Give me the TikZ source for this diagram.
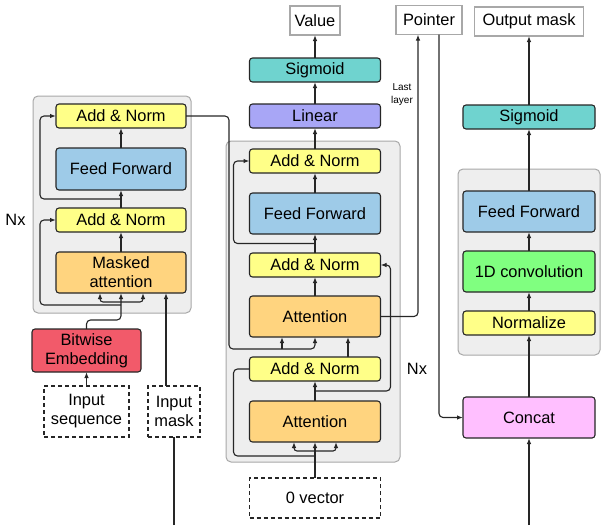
\documentclass[tikz,border=0pt]{standalone}
\usepackage{fontspec}
\setmainfont{Liberation Sans}
\usetikzlibrary{positioning,calc,arrows.meta}
\definecolor{normyellow}{HTML}{FFFF88}
\definecolor{ffblue}{HTML}{9ECBE8}
\definecolor{attnorange}{HTML}{FFD47F}
\definecolor{sigteal}{HTML}{6FD3CF}
\definecolor{linblue}{HTML}{A8A6F6}
\definecolor{embedred}{HTML}{F25A6A}
\definecolor{convgreen}{HTML}{80FF80}
\definecolor{concatpink}{HTML}{FFBFFF}
\definecolor{stackgrey}{HTML}{EEEEEE}
\definecolor{edgegrey}{HTML}{A8A8A8}
\begin{document}
\begin{tikzpicture}[x=1pt, y=-1pt, node distance=20pt,
                every node/.style = {font=\fontsize{16.4}{19}\selectfont},
                block/.style = {draw=black!85, line width=1.1pt, rounded corners=3pt,
                                minimum width=131pt, align=center, inner sep=0pt, outer sep=0pt},
                slimbox/.style = {block, minimum height=24pt},
                tallbox/.style = {block, minimum height=41pt},
                addnorm/.style = {slimbox, fill=normyellow},
                ffbox/.style = {tallbox, fill=ffblue},
                dashbox/.style = {draw=black!85, dash pattern=on 4pt off 3pt, line width=1.1pt,
                                  align=center, inner sep=0pt, outer sep=0pt},
                outbox/.style = {draw=edgegrey, line width=1.2pt, fill=white,
                                 minimum height=29pt, inner sep=0pt, outer sep=0pt},
                stack/.style = {fill=stackgrey, draw=edgegrey, line width=1pt, rounded corners=5pt},
                wire/.style = {draw=black!85, line width=1.1pt},
                arr/.style = {wire, -{Latex[length=6pt,width=4.5pt]}}
            ]
            \useasboundingbox (0,0) rectangle (605,525);
            \draw[stack] (33,96) rectangle (191,313);
            \draw[stack] (226,141) rectangle (400,462);
            \draw[stack] (458,169) rectangle (600,355);

            \node[tallbox, fill=attnorange, minimum width=130pt] (encAtt) at (121,272.5) {Masked\\attention};
            \node[addnorm, minimum width=130pt, above=of encAtt] (encAN1) {Add \& Norm};
            \node[ffbox, minimum width=130pt, minimum height=42pt, above=18pt of encAN1] (encFF) {Feed Forward};
            \node[addnorm, minimum width=130pt, above=of encFF] (encAN2) {Add \& Norm};
            \node[tallbox, fill=embedred, minimum width=109pt, minimum height=43pt] (embed) at (86.5,350.5) {Bitwise\\Embedding};
            \node[dashbox, minimum width=85pt, minimum height=51pt] (inSeq) at (86.5,411.5) {Input\\sequence};
            \node[dashbox, minimum width=52pt, minimum height=51pt] (inMask) at (174,411.5) {Input\\mask};
            \node (encNx) at (15.5,220) {Nx};

            \node[tallbox, fill=attnorange] (decAtt1) at (315,421.5) {Attention};
            \node[addnorm, above=of decAtt1] (decAN1) {Add \& Norm};
            \node[tallbox, fill=attnorange, above=of decAN1] (decAtt2) {Attention};
            \node[addnorm, above=19pt of decAtt2] (decAN2) {Add \& Norm};
            \node[ffbox, above=19pt of decAN2] (decFF) {Feed Forward};
            \node[addnorm, above=of decFF] (decAN3) {Add \& Norm};
            \node[slimbox, fill=linblue, above=21pt of decAN3] (decLin) {Linear};
            \node[slimbox, fill=sigteal, above=22pt of decLin] (decSig) {Sigmoid};
            \node[outbox, minimum width=50pt, above=23pt of decSig] (value) {Value};
            \node[dashbox, minimum width=131pt, minimum height=40pt, below=36pt of decAtt1] (zeroVec) {0 vector};
            \node (decNx) at (417,369) {Nx};
            \node[outbox, minimum width=66pt] (pointer) at (429,20) {Pointer};
            \node[font=\fontsize{10}{13}\selectfont, align=center] (lastLayer) at (402,94.5) {Last\\layer};

            \node[tallbox, fill=concatpink, minimum width=132pt] (concat) at (529,417.5) {Concat};
            \node[slimbox, fill=normyellow, minimum width=132pt, above=62pt of concat] (norm) {Normalize};
            \node[tallbox, fill=convgreen, minimum width=132pt, above=19pt of norm] (conv) {1D convolution};
            \node[ffbox, minimum width=132pt, above=19pt of conv] (rFF) {Feed Forward};
            \node[slimbox, fill=sigteal, minimum width=132pt, above=62pt of rFF] (rSig) {Sigmoid};
            \node[outbox, minimum width=109pt, above=69pt of rSig] (outMask) {Output mask};

            \coordinate (embedTurn) at ($(encAtt.south)+(0,27)$);
            \coordinate (encSplit) at ($(encAtt.south)+(0,9)$);
            \coordinate (encRes) at ($(encAtt.south)+(0,12)$);
            \coordinate (encMid) at ($(encAN1.north)!0.5!(encFF.south)$);
            \coordinate (maskOut) at ([xshift=-8pt]inMask.north);
            \coordinate (maskIn) at (174,525);
            \coordinate (memTap) at ($(decAtt2.south)+(0,12)$);
            \coordinate (decJ1) at ($(decAtt1.north)!0.5!(decAN1.south)$);
            \coordinate (decJ2) at ($(decAN2.north)!0.5!(decFF.south)$);
            \coordinate (decSplit) at ($(decAtt1.south)+(0,9)$);
            \coordinate (decRes) at ($(decAtt1.south)+(0,14)$);
            \coordinate (concatIn) at (529,525);

            \draw[arr] (inSeq) -- (embed);
            \draw[arr, rounded corners=4pt] (embed.north) |- (embedTurn) -- (encAtt.south);
            \draw[arr, rounded corners=3pt] (encSplit) -| ([xshift=-21pt]encAtt.south);
            \draw[arr, rounded corners=3pt] (encSplit) -| ([xshift=22pt]encAtt.south);
            \draw[arr, rounded corners=4pt] (encRes) -| ([xshift=-16pt]encAN1.west) -- (encAN1.west);
            \draw[arr] (encAtt) -- (encAN1);
            \draw[arr] (encAN1) -- (encFF);
            \draw[arr, rounded corners=4pt] (encMid) -| ([xshift=-16pt]encAN2.west) -- (encAN2.west);
            \draw[arr] (encFF) -- (encAN2);
            \draw[wire] (maskIn) -- (inMask.south);
            \draw[arr] (maskOut) -- (maskOut |- encAtt.south);

            \draw[arr, rounded corners=4pt] (encAN2.east) -| ([xshift=-86pt]memTap) -- (memTap) -- (decAtt2.south);
            \draw[arr] ([xshift=-33pt]memTap) -- ([xshift=-33pt]decAtt2.south);

            \draw[arr] (zeroVec) -- (decAtt1);
            \draw[arr, rounded corners=3pt] (decSplit) -| ([xshift=-21pt]decAtt1.south);
            \draw[arr, rounded corners=3pt] (decSplit) -| ([xshift=21pt]decAtt1.south);
            \draw[wire, rounded corners=4pt] (decRes) -| ([xshift=-16pt]decAN1.west) -- (decAN1.west);
            \draw[arr] (decAtt1) -- (decAN1);
            \draw[arr, rounded corners=4pt] (decJ1) -| ([xshift=10pt]decAN2.east) -- (decAN2.east);
            \draw[arr] ([xshift=33pt]decAN1.north) -- ([xshift=33pt]decAtt2.south);
            \draw[arr] (decAtt2) -- (decAN2);
            \draw[arr] (decAN2) -- (decFF);
            \draw[arr, rounded corners=4pt] (decJ2) -| ([xshift=-16pt]decAN3.west) -- (decAN3.west);
            \draw[arr] (decFF) -- (decAN3);
            \draw[arr] (decAN3) -- (decLin);
            \draw[arr] (decLin) -- (decSig);
            \draw[arr] (decSig) -- (value);

            \draw[arr, rounded corners=4pt] (decAtt2.east) -| ([xshift=-11pt]pointer.south);
            \draw[arr, rounded corners=4pt] ([xshift=10pt]pointer.south) |- (concat.west);

            \draw[arr] (concatIn) -- (concat);
            \draw[arr] (concat) -- (norm);
            \draw[arr] (norm) -- (conv);
            \draw[arr] (conv) -- (rFF);
            \draw[arr] (rFF) -- (rSig);
            \draw[arr] (rSig) -- (outMask);
        \end{tikzpicture}
\end{document}
